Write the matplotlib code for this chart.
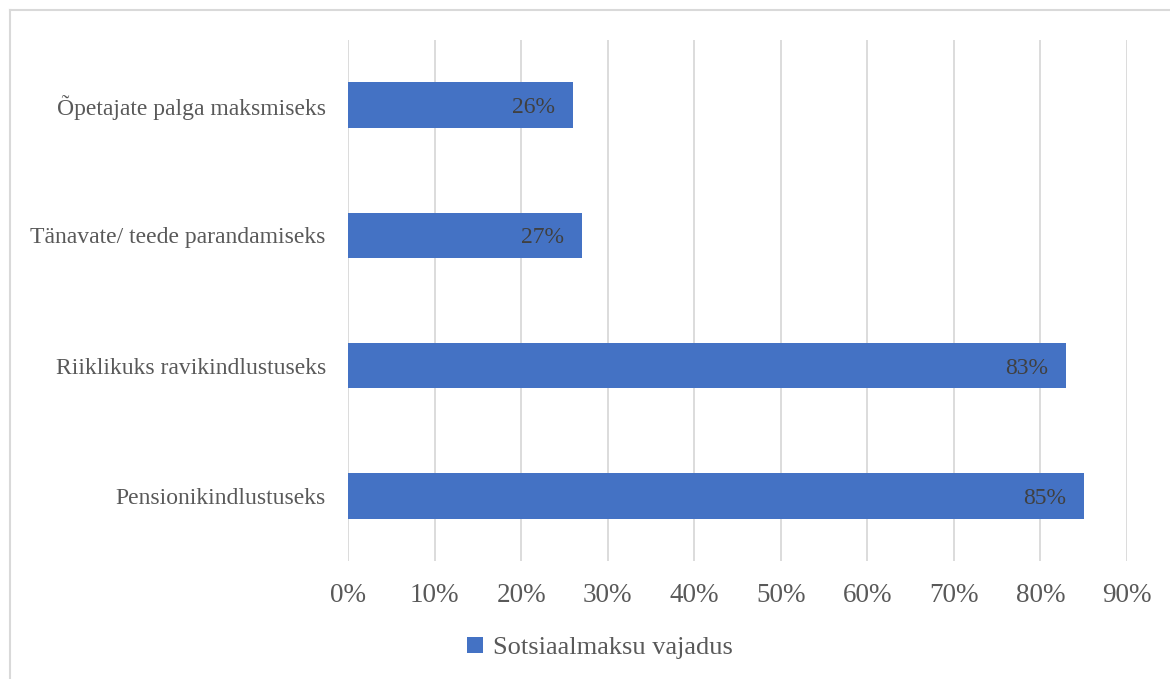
import matplotlib.pyplot as plt
from matplotlib.lines import Line2D

plt.rcParams['font.family'] = ['Liberation Serif', 'DejaVu Serif']

# Sotsiaalmaksu vajadus (osakaal vastajatest)
kategooriad = ['Pensionikindlustuseks', 'Riiklikuks ravikindlustuseks',
               'Tänavate/ teede parandamiseks', 'Õpetajate palga maksmiseks']
vaartused = [85, 83, 27, 26]
xtikid = [0, 10, 20, 30, 40, 50, 60, 70, 80, 90]

sinine = '#4472C4'
hall = '#595959'

fig = plt.figure(figsize=(11.7, 6.79), dpi=100)
ax = fig.add_axes([348 / 1170, 1 - 561 / 679, 779 / 1170, 521 / 679])

y = range(len(kategooriad))
ribad = ax.barh(y, vaartused, height=0.35, color=sinine, zorder=3,
                label='Sotsiaalmaksu vajadus')

for r, v in zip(ribad, vaartused):
    ax.annotate(f'{v}%', (r.get_width(), r.get_y() + r.get_height() / 2),
                xytext=(-18, 0), textcoords='offset pixels',
                ha='right', va='center_baseline', fontsize=17, color='#404040', zorder=4)

ax.set_xlim(0, 90)
ax.set_ylim(-0.5, len(kategooriad) - 0.5)
ax.set_xticks(xtikid)
ax.set_xticklabels([f'{t}%' for t in xtikid], fontsize=19.5, color=hall)
ax.set_yticks(list(y))
ax.set_yticklabels(kategooriad, fontsize=17, color=hall)
ax.tick_params(axis='both', length=0)
ax.tick_params(axis='x', pad=16)
ax.tick_params(axis='y', pad=16)
ax.grid(axis='x', color='#d9d9d9', linewidth=1.3, zorder=0)
for s in ax.spines.values():
    s.set_visible(False)

fig.legend(handles=[ribad], loc='center', bbox_to_anchor=(600 / 1170, 1 - 648 / 679),
           frameon=False, fontsize=19, labelcolor=hall, handlelength=0.6,
           handleheight=0.6, handletextpad=0.4)

# raam ümber joonise
fig.add_artist(Line2D([10 / 1170, 10 / 1170], [1 - 10 / 679, 0], color='#d9d9d9',
                      linewidth=1.5, transform=fig.transFigure))
fig.add_artist(Line2D([10 / 1170, 1], [1 - 10 / 679, 1 - 10 / 679], color='#d9d9d9',
                      linewidth=1.5, transform=fig.transFigure))

fig.savefig('out.png', dpi=100)
